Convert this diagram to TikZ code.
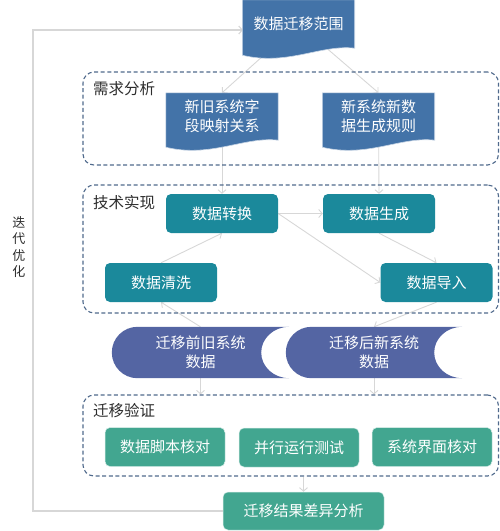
\documentclass[tikz,border=0pt]{standalone}
\usepackage{fontspec}
\setmainfont{Noto Sans CJK SC}
\usetikzlibrary{arrows.meta,backgrounds,calc}
\pgfdeclarelayer{edges}
\pgfsetlayers{edges,background,main}
\definecolor{docc}{RGB}{67,115,168}
\definecolor{tealc}{RGB}{27,137,155}
\definecolor{storec}{RGB}{84,101,163}
\definecolor{greenc}{RGB}{66,166,144}
\definecolor{dashc}{RGB}{80,106,140}
\definecolor{linegray}{RGB}{215,215,215}
\definecolor{labelc}{RGB}{45,45,45}
\newcommand\docbg[1]{\path[fill=docc, draw=white!70!docc, line width=0.6pt] let \p1=(#1.north west), \p2=(#1.south east), \n1={\x2-\x1} in (\x1,\y1) -- (\x2,\y1) -- (\x2,\y2) .. controls (\x2-0.3*\n1,\y2+4pt) and (\x1+0.4*\n1,\y2-18pt) .. (\x1,\y2-7pt) -- cycle;}
\newcommand\storebg[1]{\path[fill=storec] let \p1=(#1.north west), \p2=(#1.south east), \n1={(\y1-\y2)/2} in (\x2,\y1) -- (\x1+\n1,\y1) arc[start angle=90, end angle=270, radius=\n1] -- (\x2,\y2) arc[start angle=270, end angle=90, x radius=28pt, y radius=\n1] -- cycle;}
\begin{document}
\begin{tikzpicture}[x=1pt,y=1pt,
  arr/.style={draw=linegray, line width=0.9pt, -{Straight Barb[length=3.5pt,width=8pt]}},
  txt/.style={text=white, font=\fontsize{15}{19}\selectfont, align=center, inner sep=0pt},
  docnode/.style={txt, minimum width=112, minimum height=47},
  boxnode/.style={txt, rounded corners=5pt, minimum height=39},
  tealbox/.style={boxnode, fill=tealc, minimum width=112},
  greenbox/.style={boxnode, fill=greenc, draw=white!80!greenc, line width=0.5pt, minimum width=120},
  storenode/.style={txt, minimum height=51},
  dashbox/.style={draw=dashc, line width=1.1pt, dash pattern=on 4pt off 2.6pt, rounded corners=11pt, inner sep=0pt},
  grouplabel/.style={font=\fontsize{15.5}{18}\selectfont, text=labelc, anchor=west, inner sep=0pt}]
\useasboundingbox (0,0) rectangle (500,-531);

% group frames
\node[dashbox, minimum width=415.5, minimum height=93] (req) at (290.75,-118.5) {};
\node[dashbox, minimum width=415.5, minimum height=128] (tech) at (290.75,-249) {};
\node[dashbox, minimum width=415.5, minimum height=81] (val) at (290.75,-435.5) {};
\node[grouplabel] (reqlab) at (93,-89) {需求分析};
\node[grouplabel] (techlab) at (93,-203) {技术实现};
\node[grouplabel] (vallab) at (93,-411) {迁移验证};

% documents
\node[docnode, minimum height=48] (scope) at (298.5,-24) {数据迁移范围};
\node[docnode] (map) at (222,-116.5) {新旧系统字\\段映射关系};
\node[docnode] (rule) at (378.5,-116.5) {新系统新数\\据生成规则};

% processing boxes
\node[tealbox] (convert) at (222,-213.5) {数据转换};
\node[tealbox] (gen) at (379,-213.5) {数据生成};
\node[tealbox] (clean) at (161,-282.5) {数据清洗};
\node[tealbox] (import) at (436.5,-282.5) {数据导入};

% stored data
\node[storenode, minimum width=177] (oldsys) at (200.5,-352.5) {迁移前旧系统\\数据};
\node[storenode, minimum width=176] (newsys) at (374,-352.5) {迁移后新系统\\数据};

% validation
\node[greenbox] (script) at (165,-447) {数据脚本核对};
\node[greenbox] (parallel) at (299,-447.5) {并行运行测试};
\node[greenbox] (ui) at (432,-447) {系统界面核对};
\node[greenbox, minimum width=161, minimum height=38] (result) at (303.5,-511) {迁移结果差异分析};

\node[font=\fontsize{13}{16.5}\selectfont, align=center, text=labelc, inner sep=0pt] (iter) at (19,-247) {迭\\代\\优\\化};

\coordinate (fbtop) at (33,-30);
\coordinate (fbin) at (243,-30);

\begin{scope}[on background layer]
\docbg{scope}
\docbg{map}
\docbg{rule}
\storebg{oldsys}
\storebg{newsys}
\end{scope}

\begin{pgfonlayer}{edges}
\draw[arr] (scope.center) -- (map.north);
\draw[arr] (scope.center) -- (rule.north);
\draw[arr] (map.center) -- (convert.north);
\draw[arr] (rule.center) -- (gen.north);
\draw[arr] (convert.east) -- (gen.west);
\draw[arr] (convert.east) -- (import.west);
\draw[arr] (gen.south) -- (import.north);
\draw[arr] (clean.north) -- (convert.south);
\draw[arr] (oldsys.north) -- (clean.south);
\draw[arr] (import.south) -- (newsys.north);
\draw[arr] (oldsys.south) -- (oldsys.south |- val.north);
\draw[arr] (newsys.south) -- (newsys.south |- val.north);
\draw[arr] (result.north |- val.south) -- (result.north);
\draw[arr, line width=1.1pt] (result.west) -| (fbtop) -- (fbin);
\end{pgfonlayer}
\end{tikzpicture}
\end{document}
